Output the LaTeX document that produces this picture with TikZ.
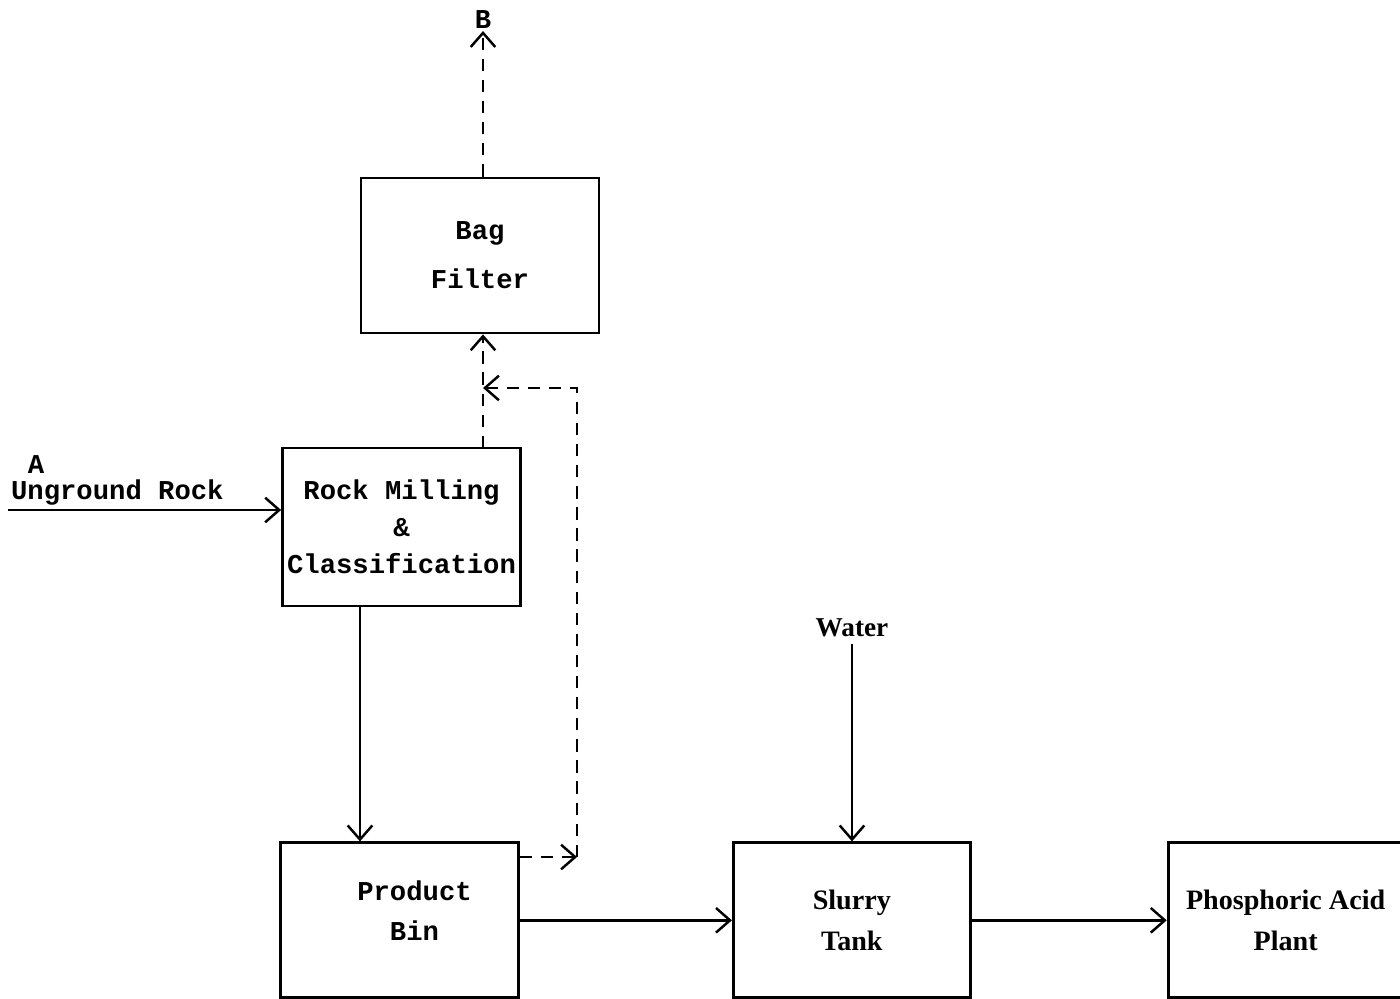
\documentclass[tikz,border=0pt]{standalone}
\usepackage{fontspec}
\setmainfont{Liberation Serif}
\setmonofont{Liberation Mono}
\usetikzlibrary{arrows.meta, positioning}

\begin{document}
\begin{tikzpicture}[
    node distance=4.2cm,
    box/.style={rectangle, draw, line width=1.6pt, minimum width=4.76cm,
                minimum height=3.1cm, align=center, inner sep=2pt,
                font=\fontsize{15.5}{21}\selectfont\ttfamily\bfseries},
    serifbox/.style={box, minimum width=4.74cm, font=\fontsize{16}{23}\selectfont\rmfamily\bfseries},
    tag/.style={font=\fontsize{15.5}{18}\selectfont\ttfamily\bfseries, inner sep=1pt},
    seriftag/.style={font=\fontsize{15.5}{18}\selectfont\rmfamily\bfseries, inner sep=1pt},
    arrow/.style={-{Straight Barb[length=8pt, width=14pt]}, line width=1.4pt},
    dasharrow/.style={arrow, dash pattern=on 7pt off 5pt}
  ]
  \useasboundingbox (0,0) rectangle (28,19.98);

  \node[box, minimum height=3.16cm] (mill) at (8.03,9.44) {Rock Milling\\\&\\Classification};
  \node[box] (bag) at (9.6,14.87) {Bag\\[7pt]Filter};
  \node[box, below=4.68cm of mill, xshift=-0.04cm] (bin) {\hspace*{0.6cm}Product\\[2pt]\hspace*{0.6cm}Bin\\[-10pt]};
  \node[serifbox, right=4.24cm of bin] (slurry) {Slurry\\Tank};
  \node[serifbox, right=3.9cm of slurry, minimum width=4.7cm] (plant) {Phosphoric Acid\\Plant};

  \node[tag] (b) at (9.66,19.58) {B};
  \node[tag, inner sep=0pt] (a) at (0.72,10.68) {A};
  \node[tag, anchor=south west] (rock) at (0.18,9.84) {Unground Rock};
  \node[seriftag] (water) at (17.04,7.42) {Water};

  \coordinate (feed) at (0.16,9.78);
  \coordinate (loopbot) at (11.54,2.84);
  \coordinate (looptop) at (11.54,12.22);
  \coordinate (millout) at (9.66,11.02);

  \draw[arrow] (feed) -- (feed -| mill.west);
  \draw[dasharrow] (millout) -- (millout |- bag.south);
  \draw[dasharrow] (millout |- bag.north) -- (b.south);
  \draw[arrow] ([xshift=-0.83cm]mill.south) -- ([xshift=-0.83cm]mill.south |- bin.north);
  \draw[dasharrow] (loopbot -| bin.east) -- (loopbot);
  \draw[dasharrow] (loopbot) -- (looptop) -- (looptop -| millout);
  \draw[arrow] (bin.east) -- (slurry.west);
  \draw[arrow] ([yshift=-3pt]water.south) -- (water.south |- slurry.north);
  \draw[arrow] (slurry.east) -- (plant.west);
\end{tikzpicture}
\end{document}
